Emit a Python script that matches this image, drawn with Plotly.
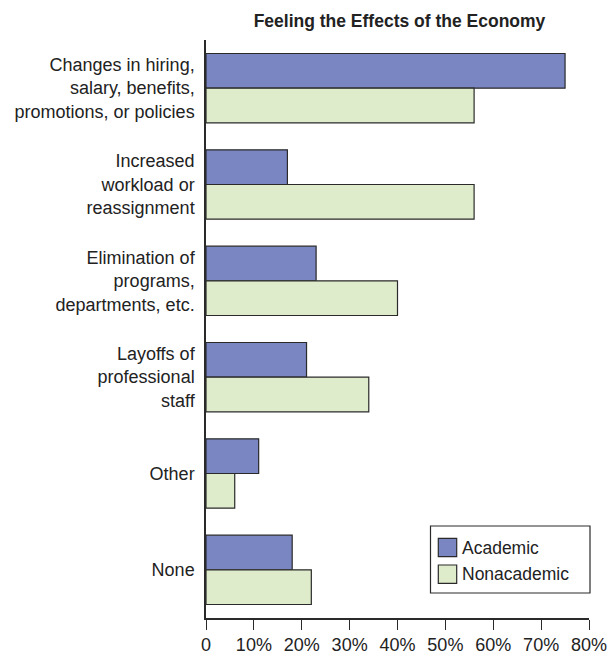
import plotly.graph_objects as go

categories = [
    "Changes in hiring,<br>salary, benefits,<br>promotions, or policies",
    "Increased<br>workload or<br>reassignment",
    "Elimination of<br>programs,<br>departments, etc.",
    "Layoffs of<br>professional<br>staff",
    "Other",
    "None",
]
academic = [75, 17, 23, 21, 11, 18]
nonacademic = [56, 56, 40, 34, 6, 22]
tick_vals = [0, 10, 20, 30, 40, 50, 60, 70, 80]
tick_text = ["0", "10%", "20%", "30%", "40%", "50%", "60%", "70%", "80%"]
series_names = ["Academic", "Nonacademic"]
colors = ["#7a86c2", "#dfeccb"]
outline = "#2a2a2a"

W, H = 610, 656
L, R, T, B = 206, 21, 40, 38
pw, ph = W - L - R, H - T - B

def px(x):
    return (x - L) / pw

def py(y):
    return (H - B - y) / ph

fig = go.Figure()
for name, vals, col in zip(series_names, [academic, nonacademic], colors):
    fig.add_trace(go.Bar(
        name=name, x=vals, y=categories, orientation="h",
        marker=dict(color=col, line=dict(color=outline, width=1.2)),
        showlegend=False, hoverinfo="skip",
    ))

font = "Liberation Sans, Arial, sans-serif"

shapes = [
    dict(type="rect", xref="paper", yref="paper",
         x0=px(430.5), x1=px(590), y0=py(593), y1=py(526),
         line=dict(color=outline, width=1.2), fillcolor="white", layer="above"),
]
annotations = []
rows = [(538.3, 556.7), (565, 583.3)]
for (y0, y1), name, col in zip(rows, series_names, colors):
    shapes.append(dict(type="rect", xref="paper", yref="paper",
                       x0=px(438.3), x1=px(456.7), y0=py(y1), y1=py(y0),
                       line=dict(color=outline, width=1.2), fillcolor=col, layer="above"))
    annotations.append(dict(xref="paper", yref="paper", x=px(459.5), y=py((y0 + y1) / 2),
                            text=name, showarrow=False, xanchor="left", yanchor="middle",
                            font=dict(family=font, size=17.5, color="#222")))

fig.update_layout(
    width=W, height=H,
    margin=dict(l=L, r=R, t=T, b=B, pad=0),
    paper_bgcolor="white", plot_bgcolor="white",
    barmode="group", bargap=0.28, bargroupgap=0,
    font=dict(family=font, size=18, color="#222"),
    title=dict(text="<b>Feeling the Effects of the Economy</b>",
               xref="paper", x=px(399.5), xanchor="center",
               yref="container", y=1 - 21 / H, yanchor="middle",
               font=dict(family=font, size=17.5, color="#222")),
    xaxis=dict(range=[0, 80], tickvals=tick_vals, ticktext=tick_text, automargin=False,
               showgrid=False, zeroline=False, showline=True, linecolor=outline,
               linewidth=1.5, ticks="outside", ticklen=10, tickwidth=1.2,
               tickcolor=outline, tickfont=dict(size=18)),
    yaxis=dict(autorange=False, range=[5.5, -0.5], showgrid=False, zeroline=False,
               automargin=False,
               showline=True, linecolor=outline, linewidth=1.5, ticks="",
               ticklabelstandoff=6, tickfont=dict(size=18)),
    shapes=shapes, annotations=annotations,
)

fig.write_html(
    "out.html",
    config={"displayModeBar": False},
    post_script="document.body.style.margin='0';document.body.style.overflow='hidden';",
)
